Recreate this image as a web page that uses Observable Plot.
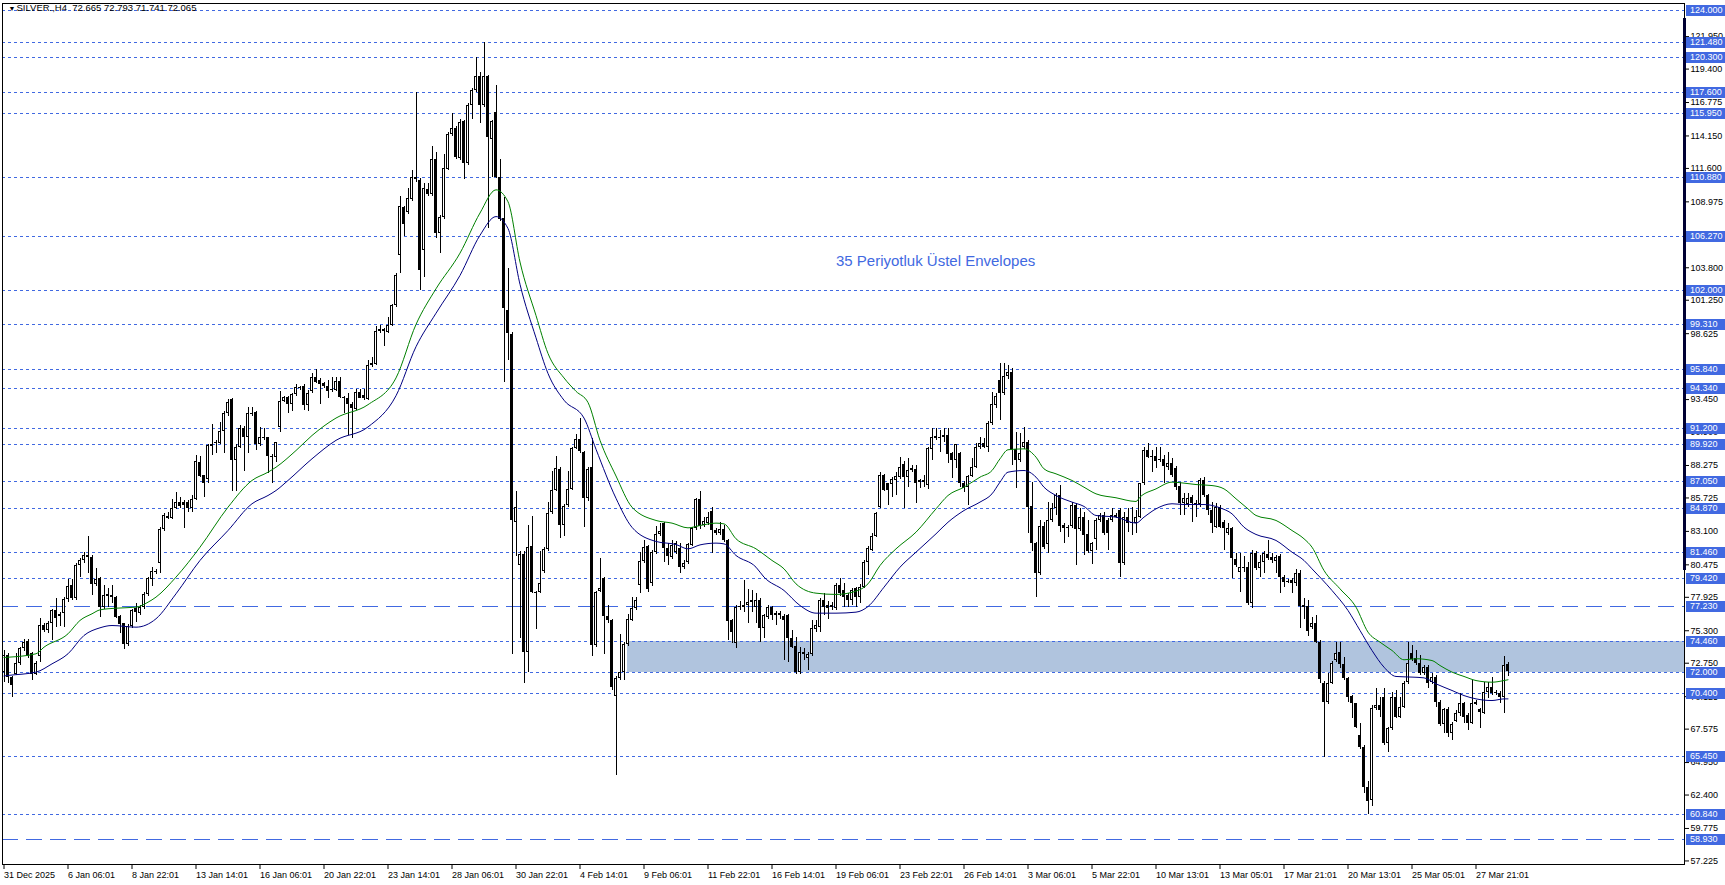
<!DOCTYPE html>
<html><head><meta charset="utf-8">
<script src="https://cdn.jsdelivr.net/npm/d3@7"></script>
<script src="https://cdn.jsdelivr.net/npm/@observablehq/plot@0.6"></script>
<style>html,body{margin:0;padding:0;background:#fff;overflow:hidden}</style>
</head><body><div id="chart"></div>
<script>
// ---------- data (H4 bars, index 0 = 31 Dec 2025) ----------
const open = [
72.0,73.36,71.66,71.84,72.76,73.88,74.46,73.49,71.84,73.28,
75.71,75.32,75.85,76.89,76.55,76.63,77.73,78.85,77.81,80.4,
80.82,81.21,81.08,78.91,79.38,77.15,78.12,78.1,77.94,76.42,
75.85,74.2,75.64,77.02,76.68,77.15,78.15,79.3,79.98,80.61,
83.22,84.27,84.09,84.87,85.4,85.4,85.34,84.87,85.58,88.54,
87.46,87.15,89.77,90.03,90.03,90.94,92.38,93.43,88.67,89.72,
91.15,90.5,92.38,92.44,89.92,90.45,90.45,89.01,88.93,91.23,
93.3,93.59,93.04,93.82,94.43,94.5,92.99,94.1,95.15,94.97,
94.69,94.45,94.27,94.2,94.9,93.64,93.54,93.05,92.7,94.0,
93.57,93.47,96.09,96.2,98.76,98.93,98.72,99.28,100.82,104.78,
108.52,108.17,109.15,110.91,110.66,105.13,109.93,109.57,112.31,106.46,
107.75,111.54,114.23,114.76,112.38,115.28,111.96,116.51,117.73,118.85,
116.51,118.78,113.88,115.98,110.91,107.68,100.47,98.58,83.77,80.45,
81.32,73.62,81.91,78.34,78.34,79.92,81.67,84.58,86.29,87.97,
83.59,85.17,86.4,89.62,90.32,89.3,85.69,88.15,74.14,78.41,
79.39,76.42,76.07,70.11,71.52,72.04,74.2,76.1,77.02,78.85,
80.74,81.91,78.98,81.42,82.83,83.69,81.73,81.08,81.47,81.73,
80.29,80.68,81.99,83.3,85.6,83.56,83.74,84.66,83.17,82.91,
83.22,82.38,76.1,74.27,77.15,77.1,77.28,77.67,77.15,77.67,
75.45,76.37,77.15,76.5,76.63,76.42,76.5,74.66,74.06,71.99,
73.62,73.1,73.44,75.4,75.58,77.67,77.28,77.15,77.02,78.85,
78.46,78.07,77.67,78.59,77.94,78.72,80.68,81.6,82.7,85.0,
87.49,86.83,86.78,87.1,87.36,88.35,87.31,87.88,87.93,87.1,
86.96,86.7,89.5,90.37,90.5,90.45,90.63,89.19,88.67,89.19,
86.89,86.57,87.41,88.14,89.66,90.03,89.66,91.54,93.0,94.95,
93.9,95.3,95.6,89.5,88.67,89.71,90.11,85.06,82.12,79.77,
83.49,82.07,83.96,84.87,85.92,83.57,83.43,83.49,85.13,83.22,
84.22,82.83,81.55,82.44,83.96,84.35,83.96,83.96,84.22,84.74,
80.55,84.22,83.83,83.7,84.22,86.83,89.45,88.98,88.98,88.72,
88.72,88.09,88.46,88.01,86.62,85.27,85.22,85.74,85.3,85.22,
87.1,85.92,84.74,83.43,85.0,83.83,82.91,83.3,80.87,79.9,
80.29,80.24,77.46,81.34,80.16,80.69,81.29,81.08,80.76,81.13,
79.51,79.2,79.25,78.98,79.82,77.28,77.2,75.53,75.9,74.4,
71.13,69.69,71.18,72.96,73.62,72.62,71.52,70.14,69.56,67.07,
66.16,63.0,62.0,69.17,69.43,70.08,66.42,67.6,70.08,68.51,
69.3,71.26,73.54,73.1,72.7,71.92,72.44,71.26,71.65,69.69,
67.94,69.09,67.26,68.2,68.78,69.56,68.64,68.04,69.69,69.09,
68.83,70.48,70.87,70.48,70.4,70.09,72.665];
const high = [
73.75,73.5,71.7,73.49,74.0,74.6,74.6,73.6,72.9,76.24,
75.9,76.0,77.0,77.81,76.7,77.9,79.3,79.3,80.6,81.0,
81.47,82.7,81.2,80.16,79.5,78.85,78.59,78.85,78.0,76.5,
75.9,75.8,77.0,77.41,77.3,78.3,79.5,80.3,80.08,83.4,
84.5,84.61,85.58,86.18,85.79,85.5,85.5,85.92,89.06,88.98,
87.5,89.95,91.47,90.2,91.68,92.5,93.43,93.5,89.9,91.42,
91.3,92.86,92.86,92.5,91.23,91.15,90.5,89.1,90.1,94.09,
93.7,93.7,93.9,94.61,94.5,94.6,94.2,95.5,95.85,95.1,
94.8,94.97,95.15,95.22,95.15,93.7,93.93,93.2,94.27,94.27,
94.27,96.55,96.72,99.18,99.25,99.0,99.88,100.9,103.38,109.43,
108.6,110.03,111.43,117.56,110.8,110.38,110.38,113.36,112.83,107.9,
112.66,114.4,115.91,114.9,115.46,115.4,116.7,117.9,120.29,119.13,
121.48,118.9,115.4,118.08,112.31,109.33,103.73,98.7,86.22,81.5,
81.5,83.59,84.3,78.4,81.49,81.8,85.35,87.8,89.02,88.1,
85.2,87.8,89.7,90.67,92.0,89.4,88.1,90.42,78.4,80.97,
79.5,77.29,76.2,71.7,75.02,74.4,76.59,77.94,77.94,81.47,
82.38,82.0,81.6,83.48,83.69,83.82,82.12,82.38,82.3,82.12,
80.8,82.12,83.4,85.65,86.23,84.2,84.6,84.99,83.3,83.82,
83.56,82.5,76.2,77.3,77.6,79.25,78.51,78.46,78.2,77.8,
76.6,77.3,77.2,76.8,76.8,76.6,76.6,75.3,74.8,74.0,
73.88,73.6,76.1,76.1,77.8,78.2,77.6,77.5,79.0,79.38,
78.98,78.2,78.6,78.7,78.9,80.8,81.9,82.9,84.6,87.7,
87.6,86.9,87.3,87.7,88.9,88.6,88.8,88.3,88.3,87.2,
87.5,89.7,91.15,91.15,91.02,91.15,91.15,89.3,89.93,89.3,
87.0,87.5,88.8,89.97,90.5,90.37,91.7,94.03,93.9,96.26,
96.3,96.1,95.9,90.89,90.76,91.23,90.2,86.97,82.2,83.96,
83.83,85.4,85.32,86.05,86.7,83.7,83.6,85.4,85.3,84.87,
84.61,83.96,82.2,84.1,84.48,84.61,84.1,84.87,84.5,84.87,
84.61,84.87,84.97,84.74,86.9,89.7,89.97,89.45,89.71,89.71,
89.06,89.32,88.8,88.2,86.97,86.05,86.05,85.9,85.5,87.23,
87.36,86.0,85.4,85.27,85.13,83.96,83.7,83.4,81.34,81.39,
81.1,80.69,81.6,81.55,81.21,81.5,82.38,81.34,81.2,81.3,
79.6,79.3,79.4,80.08,80.03,77.8,77.67,76.37,76.5,74.5,
71.3,71.92,72.9,74.4,74.4,73.23,71.6,70.2,69.6,68.0,
66.3,63.5,69.4,70.74,70.08,70.74,67.7,70.48,70.61,70.08,
71.3,74.4,74.14,73.75,73.36,72.57,72.6,71.92,71.8,69.8,
69.2,69.3,68.1,69.04,70.35,69.7,68.8,71.39,69.8,69.2,
71.26,71.26,71.65,70.6,70.5,73.28,72.793];
const low = [
71.26,71.13,70.03,71.79,72.6,73.7,73.1,71.39,71.8,72.83,
75.2,75.1,74.54,75.58,75.6,75.58,77.5,77.7,77.7,79.51,
80.6,79.77,78.07,78.8,76.37,77.0,77.15,77.41,76.3,75.06,
73.8,74.1,75.5,75.98,76.5,77.0,78.0,78.78,79.7,79.82,
83.1,84.0,84.0,84.8,84.9,83.3,84.61,84.61,85.5,87.3,
85.79,86.84,89.06,89.19,89.9,89.19,92.12,86.26,86.26,89.6,
87.83,89.19,92.1,89.45,89.8,90.2,87.62,86.84,88.54,90.89,
93.2,92.33,92.54,93.7,94.2,92.59,92.54,93.9,94.7,93.05,
94.3,93.57,94.0,94.1,93.5,92.35,90.6,90.42,92.6,93.5,
93.4,93.4,96.0,96.1,98.6,97.6,98.6,99.2,100.7,103.38,
106.25,108.0,109.0,110.5,101.98,103.03,109.4,109.4,106.07,104.95,
107.6,111.4,114.1,112.3,112.2,110.73,111.8,115.46,117.6,115.11,
116.4,106.88,110.91,110.8,107.4,94.8,96.55,73.44,81.14,74.67,
71.17,72.04,78.2,75.37,78.2,79.8,81.5,84.4,86.2,82.54,
82.72,85.0,86.3,89.5,89.2,83.42,85.41,73.27,74.0,78.3,
73.44,75.9,70.64,63.9,71.4,71.39,74.1,76.0,76.9,78.2,
80.6,78.33,78.8,81.3,82.7,80.62,80.42,80.9,81.3,79.82,
80.1,80.5,81.9,83.2,83.22,83.4,83.6,81.39,82.8,82.8,
82.2,74.53,74.27,73.88,76.9,76.76,75.89,76.76,75.9,74.4,
74.67,76.2,76.1,75.7,76.2,72.96,72.83,73.9,71.9,71.9,
73.0,72.17,73.3,75.2,75.19,76.5,76.16,76.9,76.9,78.0,
77.15,77.15,77.28,77.15,77.41,78.6,79.64,81.5,82.6,84.9,
86.2,85.13,85.8,85.9,87.2,84.87,86.57,87.7,85.26,86.5,
86.57,86.4,88.67,90.2,89.32,90.1,88.41,87.23,88.0,86.57,
86.18,85.13,87.3,88.0,89.5,89.6,89.32,91.4,92.72,91.81,
93.8,95.0,88.27,86.44,88.5,89.5,82.91,81.55,77.89,79.6,
81.7,81.34,83.8,84.35,83.04,82.12,82.65,83.3,80.42,83.1,
81.21,81.4,80.48,81.6,83.8,82.8,81.6,83.8,84.1,79.51,
80.4,83.04,82.78,82.91,84.1,86.7,88.8,87.75,88.0,88.5,
86.83,87.9,87.3,86.31,84.35,84.35,85.0,83.83,84.22,85.0,
85.8,84.35,82.91,83.3,83.3,81.6,82.8,79.38,80.3,78.33,
79.9,77.3,77.02,80.0,79.5,79.77,80.8,80.6,79.77,78.2,
78.72,79.0,78.2,78.8,75.45,76.16,74.85,75.4,74.3,71.13,
65.37,69.5,71.1,72.8,72.31,71.4,69.69,68.38,67.6,66.0,
62.5,60.9,61.5,69.0,68.51,66.3,65.77,67.5,68.4,68.4,
69.2,71.1,72.9,72.6,71.8,71.8,70.74,71.1,69.3,67.78,
67.21,66.95,66.68,68.1,68.6,67.99,67.47,67.9,69.4,67.6,
68.7,69.95,70.2,70.2,69.56,68.83,71.741];
const close = [
73.36,71.6,71.0,72.76,73.88,74.4,73.28,71.84,72.7,75.71,
75.32,75.85,76.89,76.29,76.42,77.78,78.78,77.81,80.4,80.82,
81.21,81.08,78.91,79.3,77.15,78.07,78.0,77.88,76.37,75.79,
74.2,75.64,76.89,76.76,77.15,78.15,79.38,79.98,79.85,83.22,
84.35,84.09,84.87,85.4,85.06,85.14,84.93,85.58,88.62,87.41,
86.84,89.85,89.9,90.08,90.94,92.38,93.2,88.67,89.72,91.15,
90.5,92.38,92.28,89.92,90.47,90.37,89.01,88.93,90.06,93.3,
93.59,93.04,93.82,94.43,94.29,92.99,93.9,95.15,94.8,94.62,
94.45,94.1,94.17,94.9,93.64,93.54,93.05,92.77,94.0,93.57,
93.75,96.09,96.3,98.76,98.93,98.83,99.28,100.82,103.2,108.63,
107.23,109.22,110.91,110.73,103.55,110.0,109.57,112.31,106.46,107.75,
111.61,114.23,114.76,112.48,115.18,111.96,116.58,117.73,118.78,116.58,
118.78,114.06,115.28,110.91,107.58,100.58,98.65,83.95,85.0,81.32,
73.62,81.84,78.34,78.24,79.04,81.67,84.47,86.29,88.04,83.59,
85.07,86.4,89.62,90.32,89.37,85.69,87.97,74.14,78.27,78.62,
76.42,76.07,70.81,71.52,72.04,74.2,76.2,77.02,77.67,80.74,
81.86,78.51,81.42,82.83,83.09,81.73,81.13,81.99,82.12,80.29,
80.6,82.04,83.3,85.6,83.48,83.87,84.22,83.17,82.91,83.25,
82.38,76.03,75.19,77.15,77.2,77.28,77.54,77.54,77.67,75.45,
76.5,77.15,76.5,76.68,76.5,76.1,74.66,74.01,71.99,73.62,
73.41,73.44,75.5,75.71,77.67,77.15,77.02,77.28,78.85,78.2,
77.94,77.67,78.46,77.94,78.72,80.68,81.73,82.72,84.48,87.49,
86.31,86.31,87.15,87.44,88.14,87.31,87.88,88.01,86.88,86.96,
87.1,89.58,90.5,90.55,90.37,90.63,89.14,88.67,89.9,86.89,
86.44,87.41,88.14,89.66,90.03,89.71,91.54,93.06,93.69,93.9,
95.3,95.6,89.45,88.67,89.24,90.11,85.0,82.12,79.77,83.49,
81.86,83.96,84.87,85.92,83.49,83.3,83.3,85.13,83.22,84.22,
82.78,81.55,82.12,83.96,84.35,82.91,82.91,84.35,84.35,80.55,
84.22,83.74,83.7,84.22,86.83,89.45,88.93,88.9,88.61,88.67,
88.2,88.46,87.49,86.57,85.27,85.66,85.66,85.27,85.2,87.1,
85.92,84.74,83.7,85.0,83.43,83.3,83.3,80.95,80.42,80.29,
80.16,77.46,81.34,80.16,80.69,81.34,80.95,80.82,81.08,79.51,
79.12,79.12,78.98,79.77,77.2,77.15,75.27,75.9,74.4,71.45,
69.69,71.18,72.7,73.54,72.62,71.52,70.08,69.56,67.73,66.16,
63.0,61.9,69.17,69.43,69.04,66.42,67.6,70.08,68.51,69.3,
71.13,72.75,73.02,72.7,71.97,72.39,71.13,71.65,69.69,67.94,
69.09,67.21,67.94,68.83,69.56,68.51,68.04,69.56,69.51,68.91,
70.48,70.87,70.35,70.35,70.03,72.57,72.065];

// 35-period exponential envelopes, read at sample bars
const upperIdx = [0,1,8,10,16,19,22,24,28,33,36,38,43,49,56,62,66,68,73,77,83,91,98,103,108,114,119,123,126,129,133,136,140,143,146,149,153,157,163,167,171,174,178,180,183,188,192,195,198,203,208,213,216,219,223,228,233,236,240,244,247,249,251,255,258,260,263,267,270,273,278,283,284,288,292,295,298,302,305,308,311,313,318,322,325,327,330,334,338,341,344,347,350,353,357,359,362,365,368,372,375,376];
const upperVal = [73.2,73.22,73.49,74.01,75.06,76.11,76.63,76.94,77.07,77.15,77.54,77.94,79.51,81.86,85.0,87.1,87.75,88.14,89.45,90.63,92.0,93.05,95.15,99.35,102.15,104.95,108.1,109.92,108.98,104.25,100.05,97.07,95.15,94.1,93.22,90.25,87.45,85.0,83.96,83.75,83.38,83.56,83.75,83.69,82.52,81.73,80.82,80.16,78.98,78.25,78.15,78.41,78.98,80.42,81.73,83.04,84.87,85.92,86.57,87.36,87.88,88.8,89.51,89.58,88.93,88.01,87.62,87.1,86.57,86.05,85.74,85.45,85.79,86.44,86.97,86.89,86.78,86.7,86.44,85.66,84.87,84.35,83.96,83.17,82.52,81.86,80.03,78.59,77.15,75.19,74.4,73.75,73.02,73.1,72.96,72.57,72.05,71.71,71.39,71.26,71.39,71.45];
const lowerIdx = [0,1,8,12,16,20,24,27,33,38,43,49,56,62,66,68,71,77,83,91,98,103,108,114,119,123,126,129,133,136,140,145,148,153,157,163,168,171,174,178,180,183,188,190,195,199,203,208,213,216,220,224,228,233,236,240,244,247,249,251,255,258,260,263,267,270,273,278,283,285,288,292,295,300,304,307,310,313,318,322,325,327,332,336,339,342,345,348,352,355,358,362,365,368,372,375,376];
const lowerVal = [71.75,71.79,72.05,72.7,73.49,74.93,75.53,75.71,75.58,76.24,78.2,80.82,83.17,85.27,85.92,86.31,87.1,88.8,90.25,91.3,93.75,97.6,100.23,103.2,106.35,107.82,106.88,102.5,98.3,95.5,93.4,92.0,89.55,85.7,83.42,82.31,82.07,81.73,82.04,82.18,82.12,81.21,80.29,79.51,78.46,77.28,76.68,76.68,76.76,77.2,78.72,80.29,81.47,82.91,83.82,84.74,85.4,86.05,86.97,87.75,87.88,87.36,86.57,85.92,85.4,85.06,84.35,84.22,83.75,84.22,84.87,85.27,85.21,85.21,84.95,84.48,83.43,82.86,82.39,81.47,80.82,80.16,78.46,76.89,75.32,73.75,72.44,71.71,71.66,71.6,71.13,70.61,70.21,69.95,69.82,69.95,69.95];

// horizontal levels and the zone
const dottedLevels = [124.0,121.48,120.3,117.6,115.95,110.88,106.27,102.0,99.31,95.84,94.34,91.2,89.92,87.05,84.87,81.46,79.42,74.46,72.0,70.4,65.45,60.84];
const dashedLevels = [77.23,58.93];
const zoneStart = 155.9, zoneLow = 72.0, zoneHigh = 74.46;

// axes (ticks fully hidden under level boxes in the reference are left out)
const priceTicks = [57.225,59.775,62.4,64.95,67.575,70.125,72.75,75.3,77.925,80.475,83.1,85.725,88.275,90.9,93.45,98.625,101.25,103.8,108.975,111.6,114.15,116.775,119.4,121.95];
const dateLabels = ["31 Dec 2025","6 Jan 06:01","8 Jan 22:01","13 Jan 14:01","16 Jan 06:01","20 Jan 22:01","23 Jan 14:01","28 Jan 06:01","30 Jan 22:01","4 Feb 14:01","9 Feb 06:01","11 Feb 22:01","16 Feb 14:01","19 Feb 06:01","23 Feb 22:01","26 Feb 14:01","3 Mar 06:01","5 Mar 22:01","10 Mar 13:01","13 Mar 05:01","17 Mar 21:01","20 Mar 13:01","25 Mar 05:01","27 Mar 21:01"];
const barsPerLabel = 16;
const xDomain = [-0.375, 420.125];
const yDomain = [56.9457, 124.5496];
const scaleBar = [80.03, 123.37];

const headerSymbol = "SILVER.,H4";
const headerOHLC = [72.665, 72.793, 71.741, 72.065];
const note = "35 Periyotluk Üstel Envelopes";
const noteBar = 232.9, notePrice = 104.3;

// ---------- build ----------
const W = 1725, H = 885, MR = 41, ML = 2, MT = 3, MB = 21;
const FONT = "'Liberation Sans', Arial, sans-serif";
const BLUE = "#4169E1";
const pxPerPrice = (H - MT - MB) / (yDomain[1] - yDomain[0]);
const minBody = 1 / pxPerPrice;

const n = Math.min(open.length, high.length, low.length, close.length);
const candles = [];
for (let i = 0; i < n; i++) {
  let lo = Math.min(open[i], close[i]), hi = Math.max(open[i], close[i]);
  if (hi - lo < minBody) { const m = (hi + lo) / 2; lo = m - minBody / 2; hi = m + minBody / 2; }
  candles.push({i, o: open[i], h: high[i], l: low[i], c: close[i], lo, hi, bull: close[i] > open[i]});
}
const bulls = candles.filter(d => d.bull && (d.hi - d.lo) * pxPerPrice > 2.5);
const upper = upperIdx.map((i, k) => ({i, v: upperVal[k]}));
const lower = lowerIdx.map((i, k) => ({i, v: lowerVal[k]}));
const dateTicks = dateLabels.map((_, k) => k * barsPerLabel);

const chart = Plot.plot({
  width: W, height: H,
  marginLeft: ML, marginRight: MR, marginTop: MT, marginBottom: MB,
  style: {background: "white", fontFamily: FONT, fontSize: "9px", color: "black", overflow: "visible"},
  x: {type: "linear", domain: xDomain},
  y: {type: "linear", domain: yDomain},
  marks: [
    Plot.rect([{x1: zoneStart, x2: xDomain[1], y1: zoneLow, y2: zoneHigh}], {x1: "x1", x2: "x2", y1: "y1", y2: "y2", fill: "#B0C4DE", shapeRendering: "crispEdges"}),
    Plot.ruleY(dottedLevels, {stroke: BLUE, strokeWidth: 1, strokeDasharray: "3,3", shapeRendering: "crispEdges"}),
    Plot.ruleY(dashedLevels, {stroke: BLUE, strokeWidth: 1, strokeDasharray: "16,8", shapeRendering: "crispEdges"}),
    Plot.ruleX(candles, {x: "i", y1: "l", y2: "h", stroke: "black", strokeWidth: 1, shapeRendering: "crispEdges"}),
    Plot.rect(candles, {x1: d => d.i - 0.375, x2: d => d.i + 0.375, y1: "lo", y2: "hi", fill: "black", shapeRendering: "crispEdges"}),
    Plot.rect(bulls, {x1: d => d.i - 0.125, x2: d => d.i + 0.125, y1: "lo", y2: "hi", fill: "white", insetTop: 1, insetBottom: 1, shapeRendering: "crispEdges"}),
    Plot.line(upper, {x: "i", y: "v", stroke: "#008000", strokeWidth: 1, curve: "monotone-x"}),
    Plot.line(lower, {x: "i", y: "v", stroke: "#000080", strokeWidth: 1, curve: "monotone-x"}),
    Plot.text([note], {x: () => noteBar, y: () => notePrice, text: d => d, fill: BLUE, fontSize: 15, fontFamily: FONT}),
    Plot.text(["\u25BC"], {frameAnchor: "top-left", dx: 6, dy: 3, lineAnchor: "top", textAnchor: "start", fontSize: 7}),
    Plot.text([headerSymbol + "  " + headerOHLC.map(v => v.toFixed(3)).join(" ")], {frameAnchor: "top-left", dx: 14, dy: 1, lineAnchor: "top", textAnchor: "start", fontSize: 9.5, fill: "black"}),
    Plot.frame({stroke: "black", shapeRendering: "crispEdges"}),
    Plot.ruleX([xDomain[1]], {y1: scaleBar[0], y2: scaleBar[1], stroke: "#000033", strokeWidth: 3}),
    Plot.axisY({anchor: "right", ticks: priceTicks, tickFormat: d => d.toFixed(3), tickSize: 4, tickPadding: 2, fontSize: 9, label: null}),
    Plot.axisX({anchor: "bottom", ticks: dateTicks, tickFormat: d => dateLabels[Math.round(d / barsPerLabel)], tickSize: 5, tickPadding: 2, textAnchor: "start", fontSize: 9, label: null})
  ]
});
document.getElementById("chart").appendChild(chart);

// level price boxes on the right scale, positioned with Plot's own y scale
const ys = chart.scale("y");
const yPx = v => ys.apply ? ys.apply(v) : ys.range[0] + (v - ys.domain[0]) * (ys.range[1] - ys.range[0]) / (ys.domain[1] - ys.domain[0]);
const g = d3.select(chart).append("g").attr("font-family", FONT).attr("font-size", 9).attr("text-anchor", "start");
for (const v of [...dottedLevels, ...dashedLevels]) {
  const y = Math.round(yPx(v));
  g.append("rect").attr("x", W - MR + 2).attr("y", y - 5).attr("width", MR).attr("height", 11).attr("fill", BLUE);
  g.append("text").attr("x", W - MR + 6).attr("y", y).attr("dy", "0.36em").attr("text-anchor", "start").attr("fill", "white").text(v.toFixed(3));
}
</script>
</body></html>
